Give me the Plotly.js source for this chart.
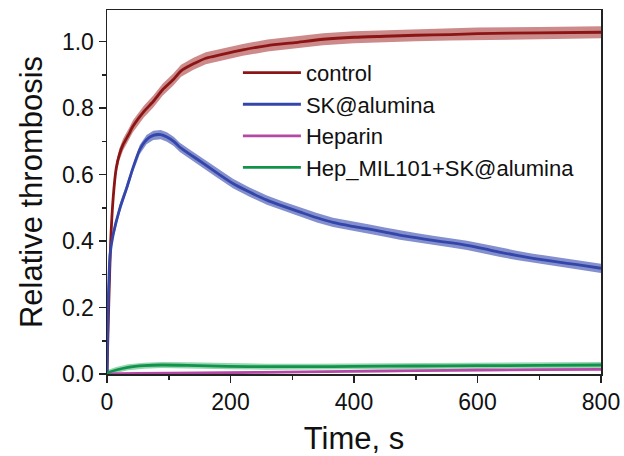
<!DOCTYPE html>
<html><head><meta charset="utf-8">
<script src="https://cdn.plot.ly/plotly-3.0.1.min.js"></script>
<style>html,body{margin:0;padding:0;background:#fff}#chart{width:624px;height:456px}</style>
</head><body><div id="chart"></div>
<script>
const seriesNames = ["control", "SK@alumina", "Heparin", "Hep_MIL101+SK@alumina"];

const tControl = [0, 1, 3, 6, 10, 15, 20, 26, 35, 42, 60, 75, 90, 107, 120, 140, 160, 183, 220, 260, 304, 350, 400, 450, 500, 555, 600, 700, 800];
const vControl = [0, 0.08, 0.22, 0.4, 0.53, 0.62, 0.66, 0.69, 0.72, 0.745, 0.79, 0.82, 0.855, 0.885, 0.912, 0.933, 0.95, 0.96, 0.975, 0.988, 0.997, 1.007, 1.013, 1.016, 1.019, 1.021, 1.024, 1.026, 1.028];
const errControl = 0.018;

const tSK = [0, 1, 2, 5, 10, 21, 32, 42, 53, 64, 75, 87, 97, 108, 118, 135, 151, 178, 204, 230, 259, 285, 313, 340, 366, 395, 421, 450, 474, 500, 528, 555, 583, 610, 637, 663, 690, 718, 745, 772, 800];
const vSK = [0, 0.12, 0.22, 0.36, 0.42, 0.5, 0.56, 0.62, 0.675, 0.705, 0.718, 0.72, 0.713, 0.7, 0.682, 0.66, 0.64, 0.605, 0.573, 0.548, 0.523, 0.505, 0.487, 0.47, 0.456, 0.445, 0.437, 0.427, 0.418, 0.41, 0.402, 0.395, 0.387, 0.377, 0.366, 0.357, 0.348, 0.34, 0.333, 0.326, 0.318];
const errSK = 0.014;

const tHep = [0, 50, 150, 250, 390, 500, 600, 700, 800];
const vHep = [0, 0.002, 0.003, 0.005, 0.008, 0.01, 0.012, 0.013, 0.014];
const errHep = 0.003;

const tGreen = [0, 2, 15, 34, 60, 89, 130, 196, 260, 330, 400, 500, 600, 700, 800];
const vGreen = [0, 0.004, 0.012, 0.02, 0.025, 0.027, 0.026, 0.023, 0.022, 0.022, 0.023, 0.024, 0.025, 0.026, 0.027];
const errGreen = 0.009;

const lineColors = ["#8b1414", "#3546aa", "#b548a6", "#12924a"];
const bandColors = ["rgba(170,60,60,0.6)", "rgba(80,95,185,0.7)", "rgba(190,90,175,0.5)", "rgba(60,180,110,0.55)"];

function band(t, v, e, color) {
  const up = v.map(y => y + e);
  const lo = v.map(y => Math.max(0, y - e));
  return {x: t.concat(t.slice().reverse()), y: up.concat(lo.slice().reverse()),
    type: "scatter", mode: "lines", fill: "toself", fillcolor: color,
    line: {width: 0, color: color}, showlegend: false, hoverinfo: "skip"};
}
function line(t, v, name, color) {
  return {x: t, y: v, name: name, type: "scatter", mode: "lines",
    line: {color: color, width: 2.8, shape: "spline", smoothing: 0.6}};
}

const sets = [[tControl, vControl, errControl], [tSK, vSK, errSK], [tHep, vHep, errHep], [tGreen, vGreen, errGreen]];
const traces = [];
sets.forEach((s, i) => traces.push(band(s[0], s[1], s[2], bandColors[i])));
sets.forEach((s, i) => traces.push(line(s[0], s[1], seriesNames[i], lineColors[i])));

const font = "Liberation Sans, Arial, sans-serif";
const layout = {
  width: 624, height: 456,
  margin: {l: 107, r: 23, t: 10, b: 82},
  paper_bgcolor: "#fff", plot_bgcolor: "#fff",
  font: {family: font, color: "#111"},
  showlegend: true,
  legend: {x: 0.265, y: 0.885, xanchor: "left", yanchor: "top", bgcolor: "rgba(0,0,0,0)",
    font: {size: 22, family: font, color: "#111"}, itemwidth: 58, tracegroupgap: 0},
  xaxis: {range: [0, 800], dtick: 200, tick0: 0, ticks: "outside", ticklen: 7, tickwidth: 1.5, tickcolor: "#222",
    showline: true, linecolor: "#222", linewidth: 1.5, mirror: true, showgrid: false, zeroline: false,
    tickfont: {size: 23, family: font, color: "#111"},
    minor: {dtick: 100, ticks: "outside", ticklen: 4, tickwidth: 1.5, tickcolor: "#222", showgrid: false},
    title: {text: "Time, s", font: {size: 31, family: font, color: "#111"}, standoff: 16}},
  yaxis: {range: [0, 1.095], dtick: 0.2, tick0: 0, tickformat: ".1f", ticks: "outside", ticklen: 7, tickwidth: 1.5, tickcolor: "#222",
    showline: true, linecolor: "#222", linewidth: 1.5, mirror: true, showgrid: false, zeroline: false,
    tickfont: {size: 23, family: font, color: "#111"},
    minor: {dtick: 0.1, ticks: "outside", ticklen: 4, tickwidth: 1.5, tickcolor: "#222", showgrid: false},
    title: {text: "Relative thrombosis", font: {size: 31, family: font, color: "#111"}, standoff: 10}}
};
Plotly.newPlot("chart", traces, layout, {displayModeBar: false, staticPlot: true});
</script></body></html>
